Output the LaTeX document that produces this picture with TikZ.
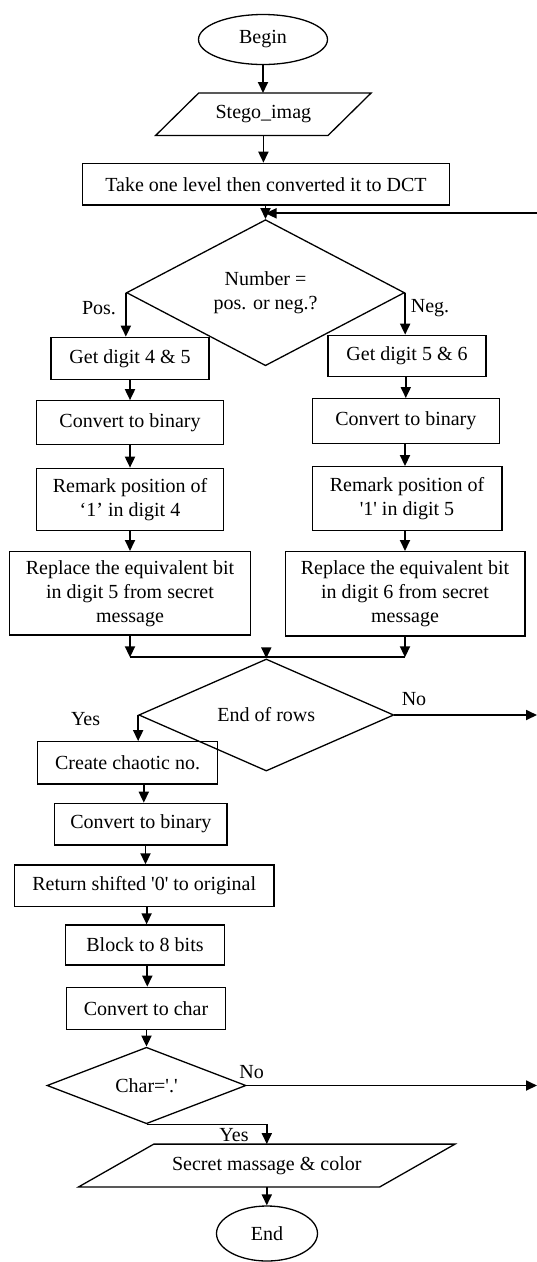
\documentclass[tikz,border=0pt]{standalone}
\usepackage{fontspec}
\newfontfamily\chartfont{Liberation Serif}
\usetikzlibrary{shapes.geometric,arrows.meta}

\begin{document}
\begin{tikzpicture}[x=1pt,y=-1pt,
  font=\chartfont\fontsize{20}{24}\selectfont,
  box/.style={draw,line width=1.3pt,rectangle,inner sep=0pt,align=center},
  term/.style={draw,line width=1.3pt,ellipse,inner sep=0pt},
  dec/.style={draw,line width=1.3pt,diamond,inner sep=0pt,align=center},
  io/.style={inner sep=0pt,align=center},
  ioline/.style={line width=1.3pt,line join=miter},
  arr/.style={line width=1.8pt,-{Triangle[length=11pt,width=10pt]}},
  lnk/.style={line width=1.8pt},
  lbl/.style={inner sep=0pt}]

\path[use as bounding box] (0,0) rectangle (537,1262);

% start and input
\node[term,minimum width=129pt,minimum height=50pt] (begin) at (263,39.5) {Begin};
\node[io,minimum width=172pt,minimum height=42pt] (stego) at (263.4,114.2) {Stego\_imag};
\draw[ioline] ([xshift=21.5pt]stego.north west) -- ([xshift=21.5pt]stego.north east)
  -- ([xshift=-21.5pt]stego.south east) -- ([xshift=-21.5pt]stego.south west) -- cycle;
\node[box,minimum width=367.5pt,minimum height=41.7pt] (dct) at (266,184.2) {Take one level then converted it to DCT};

% sign test
\node[dec,minimum width=278pt,minimum height=121.3pt] (num) at (265.5,292.7) {Number =\\pos. or neg.?};

% positive branch
\node[box,minimum width=158pt,minimum height=42pt] (g1) at (130,358.3) {Get digit 4 \& 5};
\node[box,minimum width=187.6pt,minimum height=44pt] (b1) at (130,422.8) {Convert to binary};
\node[box,minimum width=187.3pt,minimum height=62.4pt] (r1) at (130,499.5) {Remark position of\\‘1’ in digit 4};
\node[box,minimum width=240.7pt,minimum height=83.3pt] (p1) at (130,593.3) {Replace the equivalent bit\\in digit 5 from secret\\message};

% negative branch
\node[box,minimum width=158.2pt,minimum height=41.4pt] (g2) at (407,356) {Get digit 5 \& 6};
\node[box,minimum width=187pt,minimum height=44.6pt] (b2) at (405.8,421) {Convert to binary};
\node[box,minimum width=189.7pt,minimum height=64pt] (r2) at (407,498.7) {Remark position of\\'1' in digit 5};
\node[box,minimum width=239.7pt,minimum height=84.3pt] (p2) at (405,593.8) {Replace the equivalent bit\\in digit 6 from secret\\message};

% loop test
\node[dec,minimum width=255pt,minimum height=73.4pt] (rows) at (266.3,715) {End of rows};

% extraction chain
\node[box,minimum width=179.8pt,minimum height=42.3pt] (cc) at (127.6,762.9) {Create chaotic no.};
\node[box,minimum width=172.2pt,minimum height=41.7pt] (cb) at (140.9,824.2) {Convert to binary};
\node[box,minimum width=259.6pt,minimum height=41.7pt] (rs) at (144.2,885.8) {Return shifted '0' to original};
\node[box,minimum width=158.5pt,minimum height=40pt] (bk) at (145,945) {Block to 8 bits};
\node[box,minimum width=158.5pt,minimum height=42pt] (ch) at (146,1008.3) {Convert to char};
\node[dec,minimum width=199pt,minimum height=69.3pt] (dc) at (146.5,1085.5) {Char='.'};

% output and stop
\node[io,minimum width=300.8pt,minimum height=42.4pt] (sm) at (266.8,1165.5) {Secret massage \& color};
\draw[ioline] ([xshift=37.6pt]sm.north west) -- ([xshift=37.6pt]sm.north east)
  -- ([xshift=-37.6pt]sm.south east) -- ([xshift=-37.6pt]sm.south west) -- cycle;
\node[term,minimum width=101pt,minimum height=55pt] (end) at (267,1233.5) {End};

% branch labels
\node[lbl] at (99,308) {Pos.};
\node[lbl] at (430,308) {Neg.};
\node[lbl] at (414,699.3) {No};
\node[lbl] at (85.6,719.3) {Yes};
\node[lbl] at (251.7,1071.7) {No};
\node[lbl] at (234,1135) {Yes};

% connector ends
\coordinate (fb) at (537,213.3);
\coordinate (edge) at (537,0);
\coordinate (jl) at (130,657.3);
\coordinate (jr) at (405,657.3);
\coordinate (jm) at (266.3,657.3);

% connectors
\draw[arr] (begin.south) -- (begin.south |- stego.north);
\draw[arr] (stego.south) -- (stego.south |- dct.north);
\draw[arr] (dct.south -| num.north) -- (num.north);
\draw[arr] (fb) -- (fb -| num.north);

\draw[arr] (num.west) -- (num.west |- g1.north);
\draw[arr] (num.east) -- (num.east |- g2.north);
\draw[arr] (g1.south) -- (b1.north);
\draw[arr] (b1.south) -- (r1.north);
\draw[arr] (r1.south) -- (p1.north);
\draw[arr] (g2.south -| b2.north) -- (b2.north);
\draw[arr] (b2.south -| p2.north) -- (r2.north -| p2.north);
\draw[arr] (r2.south -| p2.north) -- (p2.north);

\draw[arr] (p1.south) -- (jl);
\draw[arr] (p2.south) -- (jr);
\draw[lnk] (jl) -- (jr);
\draw[arr] (jm) -- (rows.north);

\draw[arr] (rows.east) -- (rows.east -| edge);
\draw[arr] (rows.west) -- (rows.west |- cc.north);
\draw[arr] (cc.south -| 143.8,0) -- (cb.north -| 143.8,0);
\draw[arr] (cb.south -| 145.5,0) -- (rs.north -| 145.5,0);
\draw[arr] (rs.south -| 146.6,0) -- (bk.north -| 146.6,0);
\draw[arr] (bk.south -| 147.3,0) -- (ch.north -| 147.3,0);
\draw[arr] (ch.south -| dc.north) -- (dc.north);

\draw[arr] (dc.east) -- (dc.east -| edge);
\draw[arr] (dc.south) -| (sm.north);
\draw[arr] (sm.south) -- (sm.south |- end.north);
\end{tikzpicture}
\end{document}
